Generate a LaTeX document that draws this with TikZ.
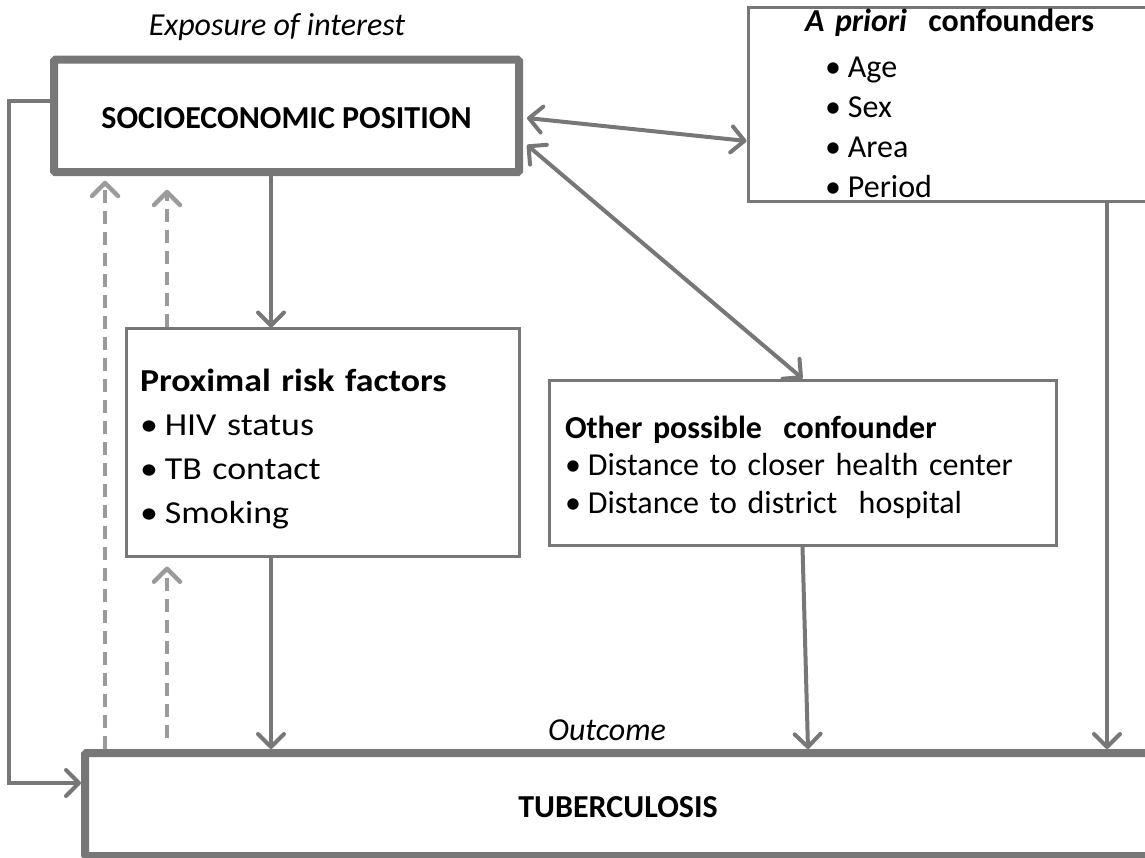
\documentclass[tikz,border=0pt]{standalone}
\usepackage{fontspec}
\setmainfont{Carlito}
\newfontfamily\proxfont{Carlito}[FakeStretch=1.12]
\usepackage{tikz}
\usetikzlibrary{arrows.meta}
\definecolor{framegray}{HTML}{777777}
\definecolor{dashgray}{HTML}{9B9B9B}
\newcommand\itembul{\textbullet\kern7pt}

\begin{document}
\begin{tikzpicture}[x=1pt,y=-1pt,
  thickbox/.style={draw=framegray, line width=8pt, rounded corners=1.5pt, inner sep=0pt},
  thinbox/.style={draw=framegray, line width=3pt, inner ysep=0pt, align=left},
  arr/.style={draw=framegray, line width=4pt, -{Straight Barb[length=13pt,width=26pt,round]}},
  darr/.style={draw=framegray, line width=4pt, {Straight Barb[length=13pt,width=26pt,round]}-{Straight Barb[length=13pt,width=26pt,round]}},
  dasharr/.style={draw=dashgray, line width=4.5pt, dash pattern=on 13pt off 8pt, -{Straight Barb[length=13pt,width=26pt,round]}}]
\useasboundingbox (0,0) rectangle (1145,858);
% boxes
\node [font=\fontsize{32}{38}\selectfont\itshape] (explab) at (277,27) {Exposure of interest};
\node [thickbox, minimum width=465pt, minimum height=112.5pt, text height=24.2pt, text depth=0pt, font=\fontsize{32}{38}\selectfont\bfseries] (sep) at (286.5,116) {SOCIOECONOMIC POSITION};
\node [thinbox, minimum width=402pt, minimum height=194pt, inner xsep=57pt, text width=288pt, text height=22pt, text depth=168pt, font=\fontsize{32}{40}\selectfont] (apr) at (949,105)
  {\mbox{\textbf{\textit{A priori}\ \ confounders}}\\[6pt]
   \hspace*{20pt}\itembul Age\\ \hspace*{20pt}\itembul Sex\\ \hspace*{20pt}\itembul Area\\ \hspace*{20pt}\itembul Period};
\node [thinbox, minimum width=393pt, minimum height=227pt, inner xsep=14pt, text width=365pt, text height=35pt, text depth=138pt, font=\proxfont\fontsize{32}{44}\selectfont] (prox) at (322.5,442.5)
  {\textbf{Proximal risk factors}\\ \itembul HIV status\\ \itembul TB contact\\ \itembul Smoking};
\node [thinbox, minimum width=507pt, minimum height=165pt, inner xsep=16pt, text width=475pt, text height=32pt, text depth=81pt, font=\fontsize{32}{37.5}\selectfont] (oth) at (802.5,462.5)
  {\textbf{Other possible\ \ confounder}\\ \itembul Distance to closer health center\\ \itembul Distance to district\ \ hospital};
\node [font=\fontsize{32}{38}\selectfont\itshape] (outlab) at (607,730) {Outcome};
\node [thickbox, minimum width=1066pt, minimum height=103pt, text height=25pt, text depth=0pt, font=\fontsize{32}{38}\selectfont\bfseries] (tb) at (618,804.5) {TUBERCULOSIS};
% x positions of the vertical connectors
\coordinate (xd1) at (105,0);
\coordinate (xd2) at (167,0);
\coordinate (xm) at (271,0);
\coordinate (xo) at (808,0);
\coordinate (xa) at (1107,0);
% arrows
\draw [arr] ([yshift=15pt]sep.west) -- ++(-41,0) |- ([yshift=21.5pt]tb.west);
\draw [arr] (sep.south -| xm) -- (prox.north -| xm);
\draw [arr] (prox.south -| xm) -- (tb.north -| xm);
\draw [arr] (oth.south) -- (tb.north -| xo);
\draw [arr] (apr.south -| xa) -- (tb.north -| xa);
\draw [darr] ([xshift=4pt,yshift=-2pt]sep.east) -- ([yshift=-36pt]apr.west);
\draw [darr] ([xshift=4pt,yshift=-29pt]sep.east) -- (oth.north);
\draw [dasharr, shorten >=4.5pt] (tb.north -| xd1) -- (sep.south -| xd1);
\draw [dasharr, shorten >=13.5pt] (prox.north -| xd2) -- (sep.south -| xd2);
\draw [dasharr, shorten <=11pt, shorten >=9pt] (tb.north -| xd2) -- (prox.south -| xd2);
\end{tikzpicture}
\end{document}
